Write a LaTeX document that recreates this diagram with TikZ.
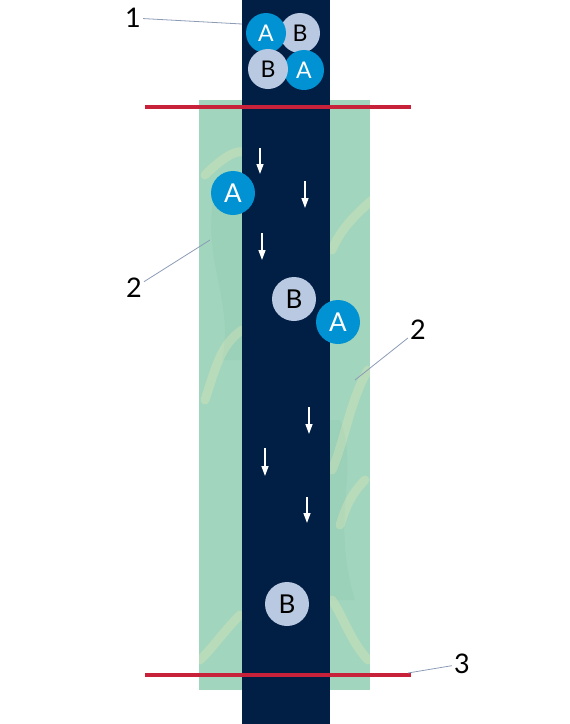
\documentclass[tikz,border=0pt]{standalone}
\usepackage{fontspec}
\setmainfont{Lato}
\usetikzlibrary{arrows.meta,positioning}
\definecolor{navy}{HTML}{011E45}
\definecolor{gel}{HTML}{A2D5BE}
\definecolor{gelpale}{HTML}{D9E4B6}
\definecolor{geldark}{HTML}{92C9B2}
\definecolor{bandred}{HTML}{C8213A}
\definecolor{blueA}{HTML}{0092D2}
\definecolor{greyB}{HTML}{B9C9E1}
\definecolor{lead}{HTML}{8C9BB6}
\tikzset{x=1pt,y=-1pt,
  ionA/.style={circle,fill=blueA,text=white,minimum size=44pt,inner sep=0pt,
    font=\fontsize{26}{26}\selectfont},
  ionB/.style={ionA,fill=greyB,text=black},
  small/.style={minimum size=40pt,font=\fontsize{23}{23}\selectfont},
  flow/.style={-{Triangle[width=7pt,length=10pt]},draw=white,line width=1.3pt},
  leader/.style={draw=lead,line width=.8pt},
  num/.style={font=\fontsize{27}{27}\selectfont,inner sep=2pt},
  band/.style={draw=bandred,line width=3.2pt},
  streak/.style={draw=gelpale,line width=9pt,line cap=round,opacity=.4}}

\begin{document}
\begin{tikzpicture}
\useasboundingbox(0,0)rectangle(570,724);
% gel
\fill[gel](199,100)rectangle(370,690);
\begin{scope}
\clip(199,100)rectangle(370,690);
\fill[geldark,opacity=.4](215,190)..controls(200,260)and(235,300)..(222,360)--(242,360)--(242,190)--cycle;
\fill[geldark,opacity=.4](340,420)..controls(360,470)and(330,520)..(355,600)--(330,600)--(330,420)--cycle;
\draw[streak](205,175)..controls(220,160)and(235,150)..(242,152);
\draw[streak](372,200)..controls(355,215)and(340,230)..(332,250);
\draw[streak](242,330)..controls(220,345)and(215,370)..(205,400);
\draw[streak](368,370)..controls(350,400)and(345,440)..(332,470);
\draw[streak](365,480)..controls(350,495)and(345,510)..(340,525);
\draw[streak](240,615)..controls(225,630)and(215,645)..(200,660);
\draw[streak](332,600)..controls(345,620)and(350,640)..(368,660);
\end{scope}
% channel
\fill[navy](242,0)rectangle(330,724);
\draw[band](145,107)--(411,107);
\draw[band](145,675)--(411,675);
% ions
\node[ionB,small](b1)at(300,33){B};
\node[ionA,small](a1)at(266,33){A};
\node[ionA,small](a2)at(304,70){A};
\node[ionB,small](b2)at(268,69){B};
\node[ionA](a3)at(233,193){A};
\node[ionB](b3)at(294,299){B};
\node[ionA](a4)at(338,322){A};
\node[ionB](b4)at(287,604){B};
% flow
\draw[flow](260,148)--(260,174);
\draw[flow](305,181)--(305,208);
\draw[flow](262,233)--(262,260);
\draw[flow](309,407)--(309,434);
\draw[flow](265,448)--(265,476);
\draw[flow](307,497)--(307,523);
% labels
\node[num](n1)at(133,18){1};
\node[num](n2)at(134,288){2};
\node[num](n3)at(418,330){2};
\node[num](n4)at(462,664){3};
\coordinate(p1)at(242,24);
\coordinate(p2)at(210,240);
\coordinate(p3)at(355,380);
\coordinate(p4)at(408,673);
\draw[leader](n1)--(p1);
\draw[leader](n2)--(p2);
\draw[leader](n3)--(p3);
\draw[leader](n4)--(p4);
\end{tikzpicture}
\end{document}
